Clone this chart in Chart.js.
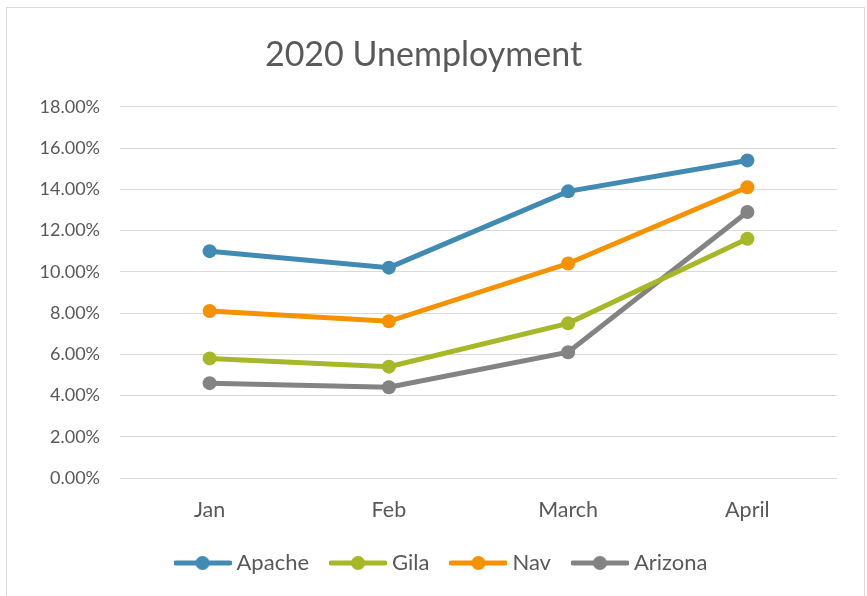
<!DOCTYPE html>
<html>
<head>
<meta charset="utf-8">
<script src="https://cdn.jsdelivr.net/npm/chart.js@4.4.0/dist/chart.umd.min.js"></script>
<style>
  html, body { margin: 0; padding: 0; background: #fff; }
  #wrap { position: relative; width: 867px; height: 596px; }
</style>
</head>
<body>
<div id="wrap"><canvas id="mycanvas"></canvas></div>
<script>
var months = ["Jan", "Feb", "March", "April"];
var apache = [11.0, 10.2, 13.9, 15.4];
var gila = [5.8, 5.4, 7.5, 11.6];
var nav = [8.1, 7.6, 10.4, 14.1];
var arizona = [4.6, 4.4, 6.1, 12.9];
var yTicks = [0, 2, 4, 6, 8, 10, 12, 14, 16, 18];

var FONT = "Lato";
var TEXT = "#595959";

// legend marker: short line with a dot in the middle
function legendMark(color) {
  var c = document.createElement("canvas");
  c.width = 58; c.height = 16;
  var g = c.getContext("2d");
  g.strokeStyle = color; g.lineWidth = 5; g.lineCap = "round";
  g.beginPath(); g.moveTo(2, 8); g.lineTo(56, 8); g.stroke();
  g.fillStyle = color;
  g.beginPath(); g.arc(29, 8, 7, 0, Math.PI * 2); g.fill();
  return c;
}

function series(label, data, color) {
  return {
    label: label,
    data: data,
    borderColor: color,
    backgroundColor: color,
    borderWidth: 5,
    pointStyle: "circle",
    pointRadius: 7,
    pointHoverRadius: 7,
    pointBorderWidth: 0,
    tension: 0,
    fill: false
  };
}

var frame = {
  id: "frame",
  beforeDraw: function(chart) {
    var ctx = chart.ctx;
    ctx.save();
    ctx.strokeStyle = "#d9d9d9";
    ctx.lineWidth = 1;
    ctx.strokeRect(6.5, 7.5, 858, 600);
    ctx.restore();
  },
  // nudge title and legend row a little to the right
  afterLayout: function(chart) {
    chart.titleBlock.left += 5;
    chart.titleBlock.right += 5;
    chart.legend.left += 25;
    chart.legend.right += 25;
  }
};

var ctx = document.getElementById("mycanvas");
new Chart(ctx, {
  type: "line",
  data: {
    labels: months,
    datasets: [
      series("Apache", apache, "#418AB3"),
      series("Gila", gila, "#A6B727"),
      series("Nav", nav, "#F69200"),
      series("Arizona", arizona, "#838383")
    ]
  },
  options: {
    responsive: true,
    maintainAspectRatio: false,
    animation: { duration: 0 },
    layout: { padding: { left: 0, right: 30, top: 0, bottom: 12 } },
    plugins: {
      title: {
        display: true,
        text: "2020 Unemployment",
        color: TEXT,
        font: { family: FONT, size: 34, weight: "normal" },
        padding: { top: 35, bottom: 31 }
      },
      legend: {
        position: "bottom",
        labels: {
          usePointStyle: true,
          pointStyleWidth: 46,
          color: TEXT,
          font: { family: FONT, size: 22 },
          padding: 26,
          generateLabels: function(chart) {
            var items = Chart.defaults.plugins.legend.labels.generateLabels(chart);
            items.forEach(function(it, i) {
              it.pointStyle = legendMark(chart.data.datasets[i].borderColor);
            });
            return items;
          }
        }
      },
      tooltip: { enabled: false }
    },
    scales: {
      x: {
        offset: true,
        afterFit: function(scale) { scale.height = 48; },
        grid: { display: false },
        border: { display: false },
        ticks: { color: TEXT, font: { family: FONT, size: 21.5 }, padding: 11 }
      },
      y: {
        min: 0,
        max: 18,
        afterBuildTicks: function(scale) {
          scale.ticks = yTicks.map(function(v) { return { value: v }; });
        },
        afterFit: function(scale) { scale.width = 120; },
        grid: { color: "#d9d9d9", lineWidth: 1, drawTicks: false },
        border: { display: false },
        ticks: {
          color: TEXT,
          font: { family: FONT, size: 18 },
          padding: 20,
          callback: function(v) { return v.toFixed(2) + "%"; }
        }
      }
    }
  },
  plugins: [frame]
});
</script>
</body>
</html>
